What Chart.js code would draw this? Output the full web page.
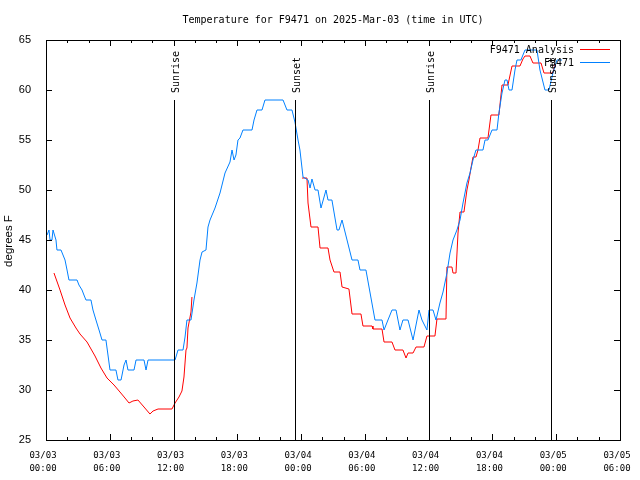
<!DOCTYPE html>
<html>
<head>
<meta charset="utf-8">
<script src="https://cdn.jsdelivr.net/npm/chart.js@4"></script>
<style>
  html, body { margin: 0; padding: 0; background: #fff; }
  #wrap { width: 640px; height: 480px; position: relative; }
</style>
</head>
<body>
<div id="wrap"><canvas id="c" width="640" height="480"></canvas></div>
<script>
// ---- Data (hours since 03/03 00:00 UTC) ----
const chartTitle = 'Temperature for F9471 on 2025-Mar-03 (time in UTC)';
const yAxisTitle = 'degrees F';
const seriesNames = ['F9471 Analysis', 'F9471'];

const xTickLabels = [
  ['03/03', '00:00'], ['03/03', '06:00'], ['03/03', '12:00'], ['03/03', '18:00'],
  ['03/04', '00:00'], ['03/04', '06:00'], ['03/04', '12:00'], ['03/04', '18:00'],
  ['03/05', '00:00'], ['03/05', '06:00']
];

const obsHours = [0.10,0.28,0.38,0.56,0.66,0.75,0.94,1.03,1.41,1.79,1.98,2.16,2.92,3.10,3.39,3.57,3.76,4.23,4.42,4.70,4.99,5.27,5.64,5.83,6.02,6.58,6.77,7.06,7.34,7.53,7.71,8.28,8.47,9.22,9.41,9.60,9.78,12.14,12.42,12.89,13.08,13.26,13.45,13.64,13.92,14.20,14.49,14.68,15.05,15.24,15.43,15.90,16.37,16.84,17.31,17.50,17.69,17.87,18.06,18.25,18.53,19.38,19.57,19.85,20.32,20.60,22.30,22.67,23.14,23.42,23.71,23.89,24.18,24.65,24.84,25.02,25.31,25.59,25.87,26.34,26.53,26.90,27.38,27.56,27.85,28.79,29.35,29.54,30.10,30.95,31.61,31.80,32.17,32.55,32.93,33.30,33.58,34.06,34.53,35.09,35.37,35.84,36.03,36.41,36.69,37.06,37.35,37.72,38.01,38.29,38.66,38.95,39.23,39.60,39.89,40.17,40.45,41.11,41.30,41.58,41.96,42.43,42.61,42.90,43.18,43.37,43.56,43.84,44.12,44.31,44.68,45.06,46.19,46.47,46.94,47.32,47.69,48.07,48.54];
const obsTemps = [45.5,46,45,45,46,46,45,44,44,43,42,41,41,40.5,40,39.5,39,39,38,37,36,35,35,33.5,32,32,31,31,32.5,33,32,32,33,33,32,33,33,33,34,34,35.3,37,37,37,39,40.7,43,43.8,44,46.3,47,48.2,49.7,51.7,52.8,54,53,53.5,55,55.2,56,56,57,58,58,59,59,58,58,56.8,55,54,51.3,51,50.2,51.1,50,50,48.2,50,49,49,46,46,47,43,43,42,42,37,37,36,37,38,38,36,37,37,35,38,37,36,38,38,37,38.7,39.8,41.7,43.7,45,46,47,48.7,50.7,51.7,53,54,54,55,55,56,56,57.7,59.7,61,61,60,60,62,63,63,64,64,62,60,60,61.7,63,63];

const anaHours = [0.75,1.32,1.79,2.26,2.82,3.20,3.86,4.61,5.17,5.74,6.40,6.96,7.43,7.81,8.18,8.65,9.22,9.78,10.07,10.54,11.85,12.14,12.51,12.79,12.98,13.17,13.26,13.36,13.64,13.73,18.90,24.08,24.55,24.65,24.93,25.59,25.78,26.53,26.72,27.09,27.66,27.85,28.50,28.79,29.63,29.82,30.67,30.76,31.61,31.80,32.55,32.83,33.58,33.87,34.06,34.53,34.81,35.56,35.84,36.59,36.78,37.63,37.72,38.19,38.29,38.57,38.76,38.95,39.32,39.60,39.79,39.98,40.17,40.45,40.64,40.83,41.58,41.86,42.61,42.90,43.46,43.84,44.59,44.87,45.06,45.53,45.81,46.57,46.85,47.69,47.88];
const anaTemps = [41.7,40,38.5,37.2,36.2,35.6,34.8,33.4,32.2,31.2,30.5,29.8,29.2,28.7,28.9,29,28.3,27.6,27.9,28.1,28.1,28.7,29.3,29.9,31.3,34,34.2,36.2,37.8,39.3,null,51.2,51.2,48.7,46.3,46.3,44.2,44.2,43,41.8,41.8,40.3,40.1,37.6,37.6,36.4,36.4,36.1,36.1,34.8,34.8,34,34,33.2,33.7,33.7,34.3,34.3,35.4,35.4,37.1,37.1,42.3,42.3,41.7,41.7,45.7,47.8,47.8,50,51,52.2,53.3,53.3,54,55.2,55.2,57.5,57.5,60.5,60.5,62.4,62.4,63.1,63.4,63.4,62.7,62.7,61.7,61.7,62.6];

const sunEventHours = [12.03, 23.45, 36.03, 47.5];
const sunEventNames = ['Sunrise', 'Sunset', 'Sunrise', 'Sunset'];
const sunLineTop = 59;

const xMin = 0, xMax = 54, yMin = 25, yMax = 65;

// ---- Build datasets ----
const obsData = obsHours.map((h, i) => ({ x: h, y: obsTemps[i] }));
const anaData = anaHours.map((h, i) => ({ x: h, y: anaTemps[i] }));

const MONO = '"DejaVu Sans Mono", "Liberation Mono", monospace';
const SANS = '"Liberation Sans", Arial, sans-serif';
const RED = 'rgb(255,0,0)';
const BLUE = 'rgb(0,128,255)';

const decorPlugin = {
  id: 'decor',
  afterDatasetsDraw(chart) {
    const ctx = chart.ctx;
    const a = chart.chartArea;
    const xs = chart.scales.x, ys = chart.scales.y;
    ctx.save();
    ctx.strokeStyle = '#000';
    ctx.lineWidth = 1;
    ctx.font = '10px ' + MONO;
    ctx.fillStyle = '#000';
    sunEventHours.forEach((h, i) => {
      const px = Math.round(xs.getPixelForValue(h)) + 0.5;
      const top = ys.getPixelForValue(sunLineTop);
      ctx.beginPath();
      ctx.moveTo(px, top);
      ctx.lineTo(px, a.bottom);
      ctx.stroke();
      ctx.save();
      ctx.translate(px + 1.5, top - 7);
      ctx.rotate(-Math.PI / 2);
      ctx.textAlign = 'left';
      ctx.textBaseline = 'middle';
      ctx.fillText(sunEventNames[i], 0, 0);
      ctx.restore();
    });
    ctx.restore();
  },
  afterDraw(chart) {
    const ctx = chart.ctx;
    const a = chart.chartArea;
    const xs = chart.scales.x, ys = chart.scales.y;
    ctx.save();
    ctx.strokeStyle = '#000';
    ctx.lineWidth = 1;
    ctx.strokeRect(Math.round(a.left) + 0.5, Math.round(a.top) + 0.5,
                   Math.round(a.right - a.left), Math.round(a.bottom - a.top));
    ctx.beginPath();
    for (let h = xMin; h <= xMax; h += 2) {
      const px = Math.round(xs.getPixelForValue(h)) + 0.5;
      const len = (h % 6 === 0) ? 6 : 3;
      ctx.moveTo(px, a.bottom); ctx.lineTo(px, a.bottom - len);
      ctx.moveTo(px, a.top); ctx.lineTo(px, a.top + len);
    }
    for (let v = yMin; v <= yMax; v += 5) {
      const py = Math.round(ys.getPixelForValue(v)) + 0.5;
      ctx.moveTo(a.left, py); ctx.lineTo(a.left + 6, py);
      ctx.moveTo(a.right, py); ctx.lineTo(a.right - 6, py);
    }
    ctx.stroke();
    ctx.fillStyle = '#000';
    ctx.font = '10px ' + MONO;
    ctx.textAlign = 'center';
    ctx.textBaseline = 'middle';
    ctx.fillText(chartTitle, (a.left + a.right) / 2, 20);
    ctx.save();
    ctx.font = '11.5px ' + SANS;
    ctx.translate(9, 241);
    ctx.rotate(-Math.PI / 2);
    ctx.textAlign = 'center';
    ctx.textBaseline = 'middle';
    ctx.fillText(yAxisTitle, 0, 0);
    ctx.restore();
    const colors = [RED, BLUE];
    const rows = [50, 63];
    ctx.font = '10px ' + MONO;
    ctx.textAlign = 'right';
    ctx.textBaseline = 'middle';
    seriesNames.forEach((n, i) => {
      ctx.fillStyle = '#000';
      ctx.fillText(n, 574, rows[i]);
      ctx.strokeStyle = colors[i];
      ctx.beginPath();
      ctx.moveTo(580, rows[i] - 0.5);
      ctx.lineTo(610, rows[i] - 0.5);
      ctx.stroke();
    });
    ctx.restore();
  }
};

new Chart(document.getElementById('c'), {
  type: 'line',
  data: {
    datasets: [
      { label: seriesNames[0], data: anaData, borderColor: RED, borderWidth: 1,
        pointRadius: 0, tension: 0, spanGaps: false, fill: false, order: 2 },
      { label: seriesNames[1], data: obsData, borderColor: BLUE, borderWidth: 1,
        pointRadius: 0, tension: 0, spanGaps: false, fill: false, order: 1 }
    ]
  },
  options: {
    responsive: false,
    devicePixelRatio: 1,
    animation: false,
    layout: { padding: { top: 40, right: 20, left: 0, bottom: 0 } },
    plugins: { legend: { display: false }, title: { display: false }, tooltip: { enabled: false } },
    scales: {
      x: {
        type: 'linear', min: xMin, max: xMax,
        grid: { display: false },
        border: { display: false },
        afterFit: (s) => { s.height = 40; s.paddingLeft = 0; s.paddingRight = 0; },
        ticks: {
          stepSize: 2, autoSkip: false, maxRotation: 0, minRotation: 0,
          padding: 2, labelOffset: -3, color: '#000',
          font: { family: MONO, size: 9, lineHeight: 1.35 },
          callback: (v) => (v % 6 === 0 ? xTickLabels[v / 6] : '')
        }
      },
      y: {
        min: yMin, max: yMax,
        grid: { display: false },
        border: { display: false },
        afterFit: (s) => { s.width = 46; s.paddingTop = 0; s.paddingBottom = 0; },
        ticks: {
          stepSize: 5, padding: 7, color: '#000',
          font: { family: SANS, size: 11 }
        }
      }
    }
  },
  plugins: [decorPlugin]
});
</script>
</body>
</html>
